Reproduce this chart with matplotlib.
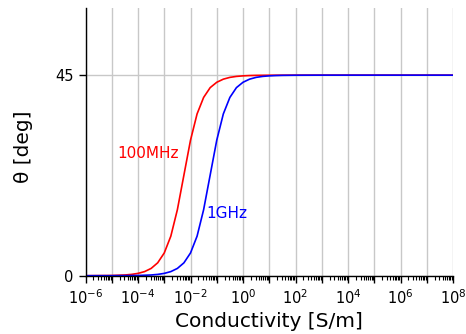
import matplotlib
matplotlib.use("Agg")
import matplotlib.pyplot as plt
from matplotlib.ticker import FixedLocator, FuncFormatter, NullFormatter
import numpy as np

# Data (conductivity in S/m, theta in degrees)
sigma_100mhz = [1e-6, 1e-5, 3.16e-5, 5.62e-5, 1e-4, 1.78e-4, 3.16e-4, 5.62e-4,
                1e-3, 1.78e-3, 3.16e-3, 5.62e-3, 1e-2, 1.78e-2, 3.16e-2, 5.62e-2,
                1e-1, 1.78e-1, 3.16e-1, 5.62e-1, 1, 1.78, 3.16, 10, 100, 1e8]
theta_100mhz = [0.0, 0.05, 0.16, 0.29, 0.52, 0.92, 1.63, 2.89,
                5.1, 8.87, 14.8, 22.6, 30.4, 36.3, 40.0, 42.2,
                43.4, 44.1, 44.5, 44.72, 44.84, 44.91, 44.95, 44.98, 45.0, 45.0]

sigma_1ghz = [1e-6, 1e-5, 1e-4, 3.16e-4, 5.62e-4, 1e-3, 1.78e-3, 3.16e-3, 5.62e-3,
              1e-2, 1.78e-2, 3.16e-2, 5.62e-2, 1e-1, 1.78e-1, 3.16e-1, 5.62e-1,
              1, 1.78, 3.16, 5.62, 10, 17.8, 31.6, 100, 1000, 1e8]
theta_1ghz = [0.0, 0.005, 0.05, 0.16, 0.29, 0.52, 0.92, 1.63, 2.89,
              5.1, 8.87, 14.8, 22.6, 30.4, 36.3, 40.0, 42.2,
              43.4, 44.1, 44.5, 44.72, 44.84, 44.91, 44.95, 44.98, 45.0, 45.0]

y_ticks = [0, 45]
x_label = "Conductivity [S/m]"
y_label = "θ [deg]"

plt.rcParams['font.family'] = ['DejaVu Sans']

fig = plt.figure(figsize=(4.66, 3.34), dpi=100)
ax = fig.add_axes([85.5/466, 1-275.7/334, (453-85.5)/466, (275.7-8.3)/334])

ax.plot(sigma_100mhz, theta_100mhz, color='#ff0000', lw=1.2)
ax.plot(sigma_1ghz, theta_1ghz, color='#0000ff', lw=1.2)

ax.set_xscale('log')
ax.set_xlim(1e-6, 1e8)
ax.set_ylim(0, 60)

major = [10.0**e for e in range(-6, 9)]
minor = [m * 10.0**e for e in range(-6, 8) for m in range(2, 10)]
ax.xaxis.set_major_locator(FixedLocator(major))
ax.xaxis.set_minor_locator(FixedLocator(minor))
def fmt(v, pos):
    e = int(round(np.log10(v)))
    if e % 2 == 0:
        return r'$10^{%d}$' % e
    return ''
ax.xaxis.set_major_formatter(FuncFormatter(fmt))
ax.xaxis.set_minor_formatter(NullFormatter())
ax.set_yticks(y_ticks)

ax.grid(True, which='major', axis='x', color='#c8c8c8', lw=1)
ax.grid(True, which='major', axis='y', color='#c8c8c8', lw=1)
ax.set_axisbelow(True)

for s in ['top', 'right']:
    ax.spines[s].set_visible(False)
for s in ['left', 'bottom']:
    ax.spines[s].set_color('black')
    ax.spines[s].set_linewidth(1.0)

ax.tick_params(axis='both', which='major', direction='out', length=5, width=1,
               labelsize=10.5, colors='black')
ax.tick_params(axis='x', which='minor', direction='out', length=3, width=0.8)
ax.tick_params(axis='x', which='major', pad=4)

ax.set_xlabel(x_label, fontsize=14.5, labelpad=4)
ax.set_ylabel(y_label, fontsize=14.5)
ax.yaxis.set_label_coords(-0.143, 0.483)

ax.text(1.6e-5, 27.5, "100MHz", color='#ff0000', fontsize=11, fontweight='medium',
        ha='left', va='center')
ax.text(3.9e-2, 14.0, "1GHz", color='#0000ff', fontsize=11, fontweight='medium',
        ha='left', va='center')

fig.savefig("out.png", dpi=100)
